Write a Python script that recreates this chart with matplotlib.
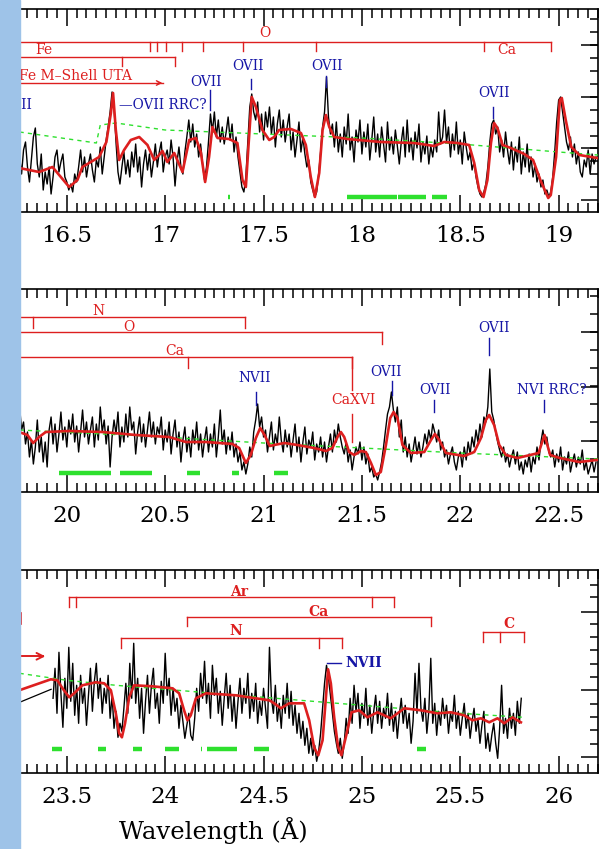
import matplotlib.pyplot as plt
import numpy as np
from matplotlib.ticker import MultipleLocator, FixedLocator, FuncFormatter
from matplotlib.patches import Rectangle

RED = '#dd1f1f'
BLUE = '#1616a6'
GREEN = '#2ee02e'
FONT = 'DejaVu Serif'

# ---- panel 1 : 16.26 - 19.2 A ----
p1_start = 16.26
p1_flux = [55, 38, 62, 70, 45, 30, 52, 75, 84, 48, 35, 58, 22, 40, 28, 45, 18, 35, 55, 62, 40, 50, 58, 35, 30,
           22, 28, 20, 38, 30, 45, 62, 40, 55, 35, 48, 58, 42, 30, 52, 45, 65, 38, 55, 72,
           85, 100, 120, 105, 70, 40, 28, 45, 60, 38,
           52, 35, 60, 45, 68, 40, 55, 25, 48, 62, 42, 58, 35, 50, 68, 45, 60, 70, 40, 55,
           62, 48, 72, 55, 26, 50, 65, 45, 38, 60,
           75, 92, 70, 88, 65, 78, 55, 68, 48, 32,
           45, 70, 98, 80, 100, 75, 92, 70, 85, 68,
           80, 95, 72, 88, 60, 75, 55, 40, 25, 20, 35, 70, 105, 118, 100,
           92, 110, 80, 98, 72, 100, 85, 105, 78, 95, 65, 88, 102, 75, 92,
           70, 85, 98, 62, 80, 55, 72, 90, 60, 75,
           58, 45, 52, 30, 22, 15, 20, 38, 60, 85,
           100, 135, 95, 78, 88,
           65, 90, 60, 78, 55, 85, 68, 98, 62, 75, 50, 82, 70, 92, 58, 80, 65, 88, 52, 72,
           95, 60, 78, 55, 85, 68, 50, 90, 62, 75, 58, 82, 66, 48, 70, 85, 55, 92, 60, 74,
           52, 80, 64, 88, 50, 70, 58, 76, 48, 66, 55, 72, 60, 100, 68,
           75, 102, 70, 85, 55, 78, 62, 90, 58, 72,
           48, 80, 65, 52, 60, 42, 50, 35, 25, 18,
           15, 20, 28, 45, 70, 88, 92, 78, 85, 60,
           72, 55, 80, 62, 48, 70, 42, 65, 50, 75,
           38, 60, 45, 68, 40, 55, 35, 48, 30, 38,
           25, 32, 18, 22, 15, 20, 35, 60, 90, 112,
           115, 100, 85, 70, 62, 75, 55, 68, 48, 60,
           40, 35, 52, 45, 62, 38, 58, 48, 55]
p1_model_wl = [16.258, 16.359, 16.427, 16.512, 16.554, 16.579, 16.622, 16.664, 16.701, 16.724, 16.735,
               16.749, 16.766, 16.791, 16.825, 16.868, 16.910, 16.944, 16.969, 16.986, 17.011, 17.046,
               17.088, 17.122, 17.156, 17.181, 17.203, 17.223, 17.240, 17.266, 17.325, 17.367, 17.393,
               17.410, 17.423, 17.440, 17.461, 17.494, 17.529, 17.554, 17.579, 17.639, 17.690, 17.715,
               17.740, 17.761, 17.783, 17.800, 17.817, 17.834, 17.859, 17.927, 18.096, 18.266, 18.367,
               18.418, 18.486, 18.545, 18.571, 18.596, 18.618, 18.638, 18.656, 18.672, 18.689, 18.715,
               18.757, 18.825, 18.870, 18.907, 18.947, 18.960, 18.987, 19.006, 19.016, 19.036, 19.064,
               19.105, 19.195]
p1_model = [44, 40, 45, 25, 32, 45, 50, 55, 70, 99, 119,
            82, 52, 62, 72, 75, 67, 52, 57, 61, 50, 59,
            40, 72, 74, 60, 30, 55, 85, 74, 73, 69, 32,
            25, 65, 115, 105, 82, 72, 75, 82, 83, 79, 67,
            35, 15, 39, 82, 97, 85, 75, 73, 70, 69, 66,
            70, 69, 67, 49, 22, 15, 32, 69, 89, 84, 67,
            64, 58, 52, 32, 14, 17, 55, 112, 114, 92, 65,
            57, 54]
p1_cont_wl = [16.26, 16.65, 16.67, 16.75, 17.0, 17.5, 18.0, 18.5, 19.0, 19.2]
p1_cont = [80, 69, 87, 89, 82, 78, 74, 68, 60, 57]
p1_bins = [(17.923, 18.176), (18.182, 18.326), (18.358, 18.432), (17.321, 17.329)]

# ---- panel 2 : 19.76 - 22.7 A ----
p2_start = 19.76
p2_flux = [85, 62, 70, 48, 60, 35, 52, 28, 45, 72, 40, 55, 30, 50, 25, 62, 75, 48, 68, 40, 58, 80, 52, 65,
           45, 72, 58, 78, 50, 66, 40, 60, 82, 55, 70, 48, 62, 75, 45, 68, 52, 85, 60, 72,
           48, 66, 25, 55, 72, 58, 80, 45, 65, 50, 78, 55, 85, 62, 70, 38, 60, 75, 50, 68,
           45, 62, 80, 55, 70, 48, 65, 58, 75, 42, 62, 50, 70, 38, 58, 72, 45, 60, 30, 52,
           65, 40, 55, 35, 62, 48, 70, 42, 58, 35, 52, 65, 40, 58, 45, 68, 35, 55, 82, 48,
           62, 38, 55, 42, 60, 35, 48, 30, 40, 22, 30, 18, 28, 45, 35, 60, 72, 88, 65, 75,
           55, 62, 40, 55, 70, 42, 58, 48, 75, 52, 40, 62, 45, 58, 35, 52, 68, 40, 55, 30,
           50, 65, 38, 52, 45, 60, 32, 48, 40, 55, 35, 50, 30, 45, 58, 40, 62, 50, 68, 55,
           45, 38, 50, 30, 42, 22, 35, 45, 38, 50, 32, 45, 28, 38, 20, 25, 15, 18, 12, 20,
           30, 45, 62, 78, 85, 100, 82, 70, 85, 55, 72, 40, 55, 35, 48, 30, 42, 55, 38, 50,
           35, 45, 58, 48, 62, 52, 68, 60, 50, 62, 42, 50, 35, 42, 28, 38, 45, 30, 22, 35,
           40, 25, 45, 32, 50, 38, 55, 45, 62, 50, 68, 55, 75, 70, 85, 123, 80, 72, 60, 50,
           42, 35, 45, 30, 38, 25, 35, 42, 28, 40, 22, 30, 18, 32, 25, 38, 20, 35, 28, 45,
           32, 50, 62, 48, 55, 40, 35, 42, 25, 38, 30, 45, 22, 35, 28, 40, 20, 30, 38, 25,
           35, 28, 42, 22, 30, 18, 25, 32, 20, 30]
p2_model_wl = [19.757, 19.800, 19.829, 19.859, 19.893, 20.012, 20.181, 20.351, 20.520, 20.605, 20.707,
               20.842, 20.876, 20.910, 20.935, 20.961, 20.983, 21.005, 21.032, 21.054, 21.105, 21.172,
               21.257, 21.317, 21.350, 21.376, 21.393, 21.410, 21.435, 21.461, 21.495, 21.520, 21.546,
               21.571, 21.596, 21.622, 21.644, 21.661, 21.681, 21.706, 21.749, 21.817, 21.851, 21.871,
               21.893, 21.927, 22.020, 22.071, 22.105, 22.130, 22.147, 22.172, 22.198, 22.232, 22.291,
               22.398, 22.428, 22.457, 22.506, 22.604, 22.693]
p2_model = [60, 57, 49, 55, 60, 61, 60, 57, 55, 50, 50,
            48, 44, 29, 37, 54, 64, 57, 46, 47, 49, 47,
            44, 41, 44, 55, 60, 55, 40, 37, 41, 40, 29,
            17, 20, 47, 74, 80, 74, 47, 39, 40, 52, 58,
            52, 39, 36, 40, 54, 72, 77, 67, 47, 37, 34,
            39, 57, 37, 34, 30, 32]
p2_cont_wl = [19.76, 20.4, 21.0, 21.5, 22.0, 22.7]
p2_cont = [62, 56, 49, 44, 39, 33]
p2_bins = [(19.961, 20.224), (20.269, 20.432), (20.613, 20.676), (20.842, 20.876), (21.052, 21.126)]

# ---- panel 3 : 23.26 - 26.2 A ----
p3_gap_wl = [23.26, 23.42]
p3_gap = [71, 84]
p3_start = 23.43
p3_flux = [75, 105, 60, 121, 80, 46, 95,
           65, 126, 72, 110, 58, 88, 50, 98, 70, 85,
           48, 78, 105, 62, 92, 110, 75, 95, 60, 85,
           70, 98, 55, 78, 45, 62, 36, 50, 42, 65,
           90, 60, 110, 75, 130, 70, 95, 55, 85, 40,
           72, 98, 60, 88, 105, 65, 80, 50, 92, 70,
           120, 78, 95, 58, 85, 62, 75, 45, 68, 52,
           35, 48, 60, 38, 33, 55, 85, 62, 100, 75,
           112, 70, 90, 55, 108, 78, 95, 60, 82, 48,
           75, 100, 65, 88, 52, 78, 45, 72, 95, 60,
           85, 70, 100, 55, 80, 62, 90, 50, 72, 58,
           85, 65, 45, 126, 75, 60, 88, 52, 70, 45,
           78, 60, 90, 55, 82, 48, 68, 40, 60, 35,
           52, 28, 45, 20, 35, 18, 28, 12, 22, 40,
           65, 90, 108, 95, 78, 60, 42, 30, 20, 35,
           15, 30, 55, 40, 75, 50, 88, 62, 80, 45,
           70, 55, 85, 48, 68, 40, 62, 78, 50, 72,
           45, 65, 55, 80, 48, 70, 42, 62, 35, 58,
           75, 50, 68, 45, 60, 30, 52, 100, 60, 110,
           65, 52, 75, 40, 62, 115, 50, 70, 38, 62,
           48, 75, 55, 68, 40, 60, 52, 78, 45, 62,
           38, 55, 70, 45, 60, 35, 52, 65, 42, 55,
           30, 48, 62, 25, 40, 22, 38, 50, 30, 15,
           45, 88, 40, 55, 35, 65, 45, 60, 38, 72,
           50, 75]
p3_model_wl = [23.258, 23.419, 23.452, 23.478, 23.512, 23.537, 23.579, 23.647, 23.690, 23.724, 23.749,
               23.766, 23.780, 23.796, 23.817, 23.842, 23.935, 24.037, 24.071, 24.096, 24.113, 24.130,
               24.156, 24.207, 24.359, 24.529, 24.554, 24.588, 24.630, 24.706, 24.732, 24.757, 24.778,
               24.800, 24.817, 24.828, 24.842, 24.859, 24.879, 24.896, 24.918, 24.947, 24.986, 25.028,
               25.079, 25.147, 25.215, 25.300, 25.384, 25.452, 25.520, 25.562, 25.605, 25.647, 25.689,
               25.723, 25.765, 25.808]
p3_model = [83, 94, 93, 85, 76, 80, 88, 91, 90, 83, 60,
            40, 36, 50, 76, 88, 87, 85, 80, 63, 53, 58,
            75, 80, 78, 73, 70, 65, 70, 70, 53, 26, 18,
            33, 76, 104, 90, 56, 26, 18, 36, 61, 63, 56,
            61, 55, 65, 63, 60, 61, 58, 53, 55, 51, 55,
            50, 56, 51]
p3_cont_wl = [23.26, 23.5, 23.75, 24.0, 24.25, 24.5, 24.75, 25.0, 25.25, 25.5, 25.82]
p3_cont = [100, 93, 88, 84, 80, 76, 72, 68, 64, 60, 56]
p3_bins = [(23.427, 23.478), (23.66, 23.701), (23.834, 23.884), (23.998, 24.071), (24.181, 24.189),
           (24.215, 24.367), (24.452, 24.530), (25.279, 25.325)]

# brackets: (x0, x1, y, tick positions, drop)
p1_brackets = [(16.0, 18.96, 170, [16.923, 16.960, 17.003, 17.084, 17.194, 17.397, 17.766, 18.622, 18.96], 9),
               (16.0, 17.05, 155, [16.78, 17.05], 9)]
p2_brackets = [(19.5, 20.908, 175, [19.827, 20.908], 11),
               (19.5, 21.602, 160, [21.602], 12),
               (19.5, 21.449, 135, [20.615, 21.449], 11)]
p3_brackets = [(23.51, 25.161, 176, [23.51, 23.549, 25.049, 25.161], 10),
               (24.113, 25.352, 156, [24.113, 25.352], 8.5),
               (23.775, 24.90, 135, [23.775, 24.782, 24.90], 9.5),
               (25.613, 25.825, 141, [25.613, 25.702, 25.825], 9.5)]
# element names on brackets: (x, y, text)
p1_names = [(17.508, 179, 'O'), (16.385, 162, 'Fe'), (18.734, 162, 'Ca')]
p2_names = [(20.163, 181, 'N'), (20.314, 165, 'O'), (20.55, 141, 'Ca')]
p3_names = [(24.374, 181, 'Ar'), (24.778, 161, 'Ca'), (24.359, 142, 'N'), (25.747, 149, 'C')]
# line ids: (text x, text y, text, marker x, marker y0, marker y1)
p1_lines = [(17.208, 130, 'OVII', 17.227, 102, 122), (17.423, 146, 'OVII', 17.435, 123, 133),
            (17.825, 146, 'OVII', 17.817, 125, 136), (18.672, 119, 'OVII', 18.664, 94, 105)]
p2_lines = [(20.953, 114, 'NVII', 20.962, 87, 100), (21.622, 120, 'OVII', 21.655, 97, 111),
            (21.871, 102, 'OVII', 21.867, 80, 92), (22.172, 164, 'OVII', 22.148, 137, 154),
            (22.467, 102, 'NVI RRC?', 22.427, 80, 92)]

panels = [
    (16.262, 19.2, 1 - 212 / 849, p1_start, p1_flux, p1_model_wl, p1_model, p1_cont_wl, p1_cont,
     p1_bins, p1_brackets, p1_names, p1_lines),
    (19.762, 22.7, 1 - 492 / 849, p2_start, p2_flux, p2_model_wl, p2_model, p2_cont_wl, p2_cont,
     p2_bins, p2_brackets, p2_names, p2_lines),
    (23.262, 26.2, 1 - 773.3 / 849, p3_start, p3_flux, p3_model_wl, p3_model, p3_cont_wl, p3_cont,
     p3_bins, p3_brackets, p3_names, []),
]
ytick_major = [[12, 63.7, 115.3, 167],
               [51, 105.3, 159.7],
               [16.3, 83, 161.3]]
ytick_minor = [list(12 + 12.9 * np.arange(15)),
               list(15.3 + 18.1 * np.arange(11)),
               [29.7, 43, 56.3, 69.7, 96.3, 109.7, 123, 136.3, 149.7, 176.3, 188]]
bin_level = [15, 19, 24]

fig = plt.figure(figsize=(6.06, 8.49), dpi=100)
axes = []
for i, (x0, x1, bot, start, flux, mwl, model, cwl, cont, bins, brk, names, lines) in enumerate(panels):
    ax = fig.add_axes([20 / 606, bot, 578 / 606, 203 / 849])
    axes.append(ax)
    wl = start + 0.01 * np.arange(len(flux))
    ax.plot(wl, flux, color='black', lw=1.0, zorder=2)
    ax.plot(cwl, cont, color=GREEN, lw=1.0, ls=(0, (3, 3)), zorder=3)
    ax.plot(mwl, model, color=RED, lw=1.9, zorder=4)
    for b0, b1 in bins:
        ax.plot([b0, b1], [bin_level[i]] * 2, color=GREEN, lw=3.2, solid_capstyle='butt', zorder=3)
    for bx0, bx1, by, ticks, drop in brk:
        ax.plot([bx0, bx1], [by, by], color=RED, lw=1.0, zorder=3)
        for t in ticks:
            ax.plot([t, t], [by, by - drop], color=RED, lw=1.0, zorder=3)
    for nx, ny, s in names:
        ax.text(nx, ny, s, color=RED, ha='center', va='center', fontsize=10, family=FONT,
                fontweight='bold' if i == 2 else 'normal', clip_on=True)
    for tx, ty, s, mx, my0, my1 in lines:
        ax.text(tx, ty, s, color=BLUE, ha='center', va='center', fontsize=9.8, family=FONT, clip_on=True)
        ax.plot([mx, mx], [my0, my1], color=BLUE, lw=1.0)

    ax.set_xlim(x0, x1)
    ax.set_ylim(0, 203)
    ax.spines['left'].set_visible(False)
    for sp in ['top', 'bottom', 'right']:
        ax.spines[sp].set_linewidth(1.2)
    ax.xaxis.set_major_locator(MultipleLocator(0.5))
    ax.xaxis.set_minor_locator(MultipleLocator(0.05))
    ax.xaxis.set_major_formatter(FuncFormatter(lambda v, p: '%g' % v))
    ax.tick_params(axis='x', which='both', direction='in', top=True, bottom=True, width=1.1)
    ax.tick_params(axis='x', which='major', length=12, labelsize=16.5, pad=9)
    ax.tick_params(axis='x', which='minor', length=6.5)
    ax.yaxis.set_major_locator(FixedLocator(ytick_major[i]))
    ax.yaxis.set_minor_locator(FixedLocator(ytick_minor[i]))
    ax.tick_params(axis='y', which='both', direction='in', left=False, right=True,
                   labelleft=False, labelright=False, width=1.1)
    ax.tick_params(axis='y', which='major', length=12)
    ax.tick_params(axis='y', which='minor', length=6)
    for lab in ax.get_xticklabels():
        lab.set_family(FONT)

ax1, ax2, ax3 = axes
# extra annotations panel 1
ax1.text(16.83, 136, 'Fe M\u2013Shell UTA', color=RED, ha='right', va='center', fontsize=10,
         family=FONT, clip_on=True)
ax1.plot([16.0, 16.99], [129, 129], color=RED, lw=1.0)
ax1.annotate('', xy=(17.0, 129), xytext=(16.95, 129),
             arrowprops=dict(arrowstyle='->', color=RED, lw=1.0, mutation_scale=8))
ax1.text(16.326, 107, 'OVIII', color=BLUE, ha='right', va='center', fontsize=9.8, family=FONT,
         clip_on=True)
ax1.text(16.766, 107, '\u2014OVII RRC?', color=BLUE, ha='left', va='center', fontsize=9.8, family=FONT)
# extra annotations panel 2
ax2.plot([21.449, 21.449], [135, 102], color=RED, lw=1.0)
ax2.plot([21.449, 21.449], [78, 50], color=RED, lw=1.0)
ax2.text(21.455, 92, 'CaXVI', color=RED, ha='center', va='center', fontsize=10, family=FONT)
# extra annotations panel 3
ax3.plot(p3_gap_wl, p3_gap, color='black', lw=0.9, zorder=2)
ax3.plot([23.0, 23.38], [117, 117], color=RED, lw=1.4)
ax3.annotate('', xy=(23.405, 117), xytext=(23.35, 117),
             arrowprops=dict(arrowstyle='->', color=RED, lw=1.4, mutation_scale=12))
ax3.plot([23.266, 23.266], [149, 160], color=RED, lw=1.2)
ax3.plot([24.825, 24.893], [110, 110], color=BLUE, lw=1.0)
ax3.text(24.918, 110, 'NVII', color=BLUE, ha='left', va='center', fontsize=10, family=FONT,
         fontweight='bold')

fig.text(213 / 606, 1 - 831 / 849, 'Wavelength (\u00c5)', ha='center', va='center', fontsize=17.5,
         family=FONT)
fig.patches.append(Rectangle((0, 0), 20 / 606, 1, transform=fig.transFigure, color='#9ec3e8', zorder=10))

fig.savefig('out.png', dpi=100)
